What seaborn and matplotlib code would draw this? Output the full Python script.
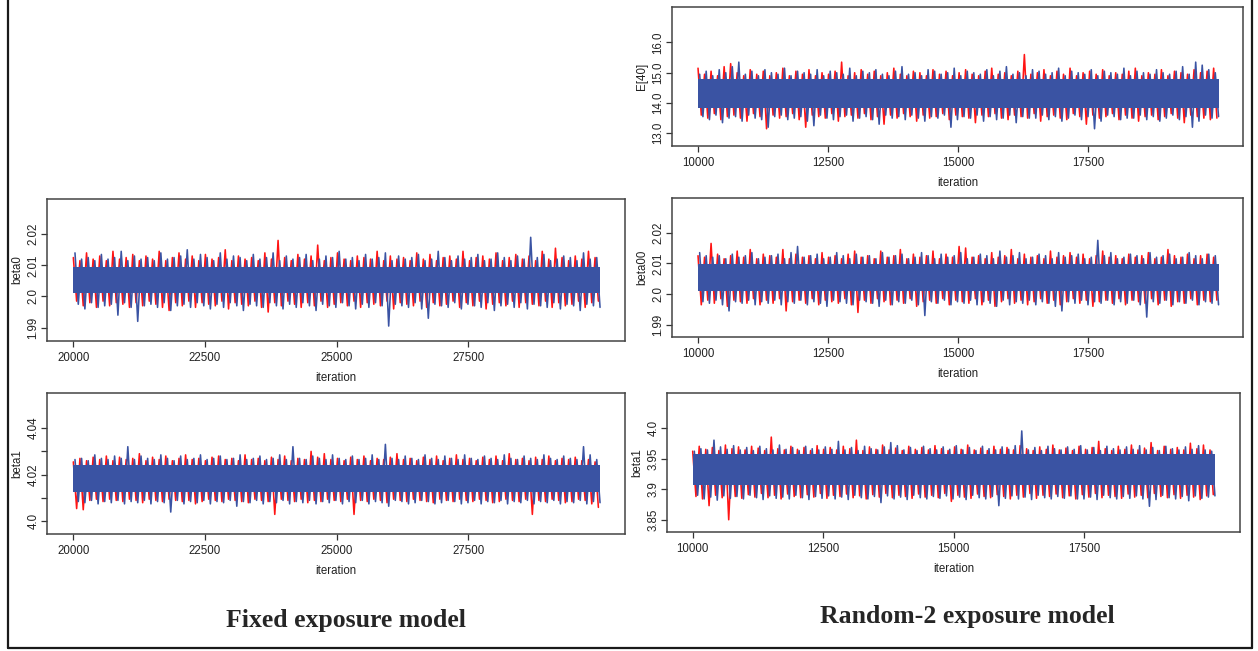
import numpy as np
import pandas as pd
import matplotlib
matplotlib.use("Agg")
import matplotlib.pyplot as plt
import seaborn as sns
from matplotlib.lines import Line2D

sns.set_theme(style="white")
plt.rcParams['font.family'] = ['Liberation Sans', 'DejaVu Sans']

# ---------------- data ----------------
# E[40], random-2 model, iterations 10000-20000 (solid core, then local highs/lows of each chain)
E40_core = [13.82, 14.80]
E40_red_hi = [15.15, 14.95, 15.05, 14.9, 15.2, 15.3, 15.0, 14.9, 15.1, 14.95,
              15.05, 14.9, 15.0, 15.15, 14.9, 15.05, 14.95, 15.1, 14.9, 15.0,
              14.95, 15.05, 15.35, 14.9, 15.0, 15.1, 14.95, 15.05, 14.9, 15.0,
              15.15, 14.95, 14.9, 15.05, 15.0, 14.9, 15.1, 14.95, 15.05, 14.9,
              15.0, 15.1, 14.95, 14.9, 15.05, 15.15, 14.95, 15.0, 14.9, 15.05,
              15.6, 14.95, 15.0, 15.1, 14.9, 15.05, 14.95, 15.15, 14.9, 15.0,
              15.05, 14.95, 15.1, 14.9, 15.0, 14.95, 15.05, 15.15, 14.9, 15.0,
              14.95, 15.1, 14.9, 15.05, 15.0, 14.95, 15.1, 15.0, 15.05, 15.15]
E40_red_lo = [13.6, 13.5, 13.65, 13.45, 13.55, 13.6, 13.5, 13.4, 13.65, 13.55,
              13.15, 13.6, 13.5, 13.55, 13.65, 13.45, 13.2, 13.6, 13.55, 13.5,
              13.65, 13.4, 13.55, 13.6, 13.5, 13.65, 13.45, 13.55, 13.3, 13.6,
              13.5, 13.65, 13.55, 13.4, 13.6, 13.5, 13.55, 13.65, 13.45, 13.6,
              13.55, 13.5, 13.35, 13.6, 13.55, 13.65, 13.5, 13.45, 13.6, 13.55,
              13.5, 13.65, 13.4, 13.55, 13.6, 13.5, 13.45, 13.65, 13.55, 13.3,
              13.6, 13.5, 13.55, 13.65, 13.45, 13.6, 13.5, 13.4, 13.55, 13.6,
              13.45, 13.55, 13.65, 13.5, 13.35, 13.6, 13.55, 13.5, 13.45, 13.5]
E40_blue_hi = [14.95, 15.05, 14.9, 15.1, 15.0, 15.2, 15.35, 14.95, 15.05, 14.9,
               15.1, 15.0, 14.95, 15.15, 14.9, 15.05, 15.0, 14.95, 15.1, 14.9,
               15.05, 15.0, 14.95, 15.15, 14.9, 15.05, 15.0, 15.1, 14.95, 14.9,
               15.05, 15.2, 14.95, 15.0, 14.9, 15.1, 15.05, 14.95, 15.0, 15.15,
               14.9, 15.05, 15.0, 14.95, 15.1, 14.9, 15.05, 15.2, 14.95, 15.0,
               14.9, 15.1, 15.05, 14.95, 15.0, 15.15, 14.9, 15.05, 15.0, 14.95,
               15.1, 14.9, 15.05, 15.0, 14.95, 15.15, 14.9, 15.05, 15.0, 14.95,
               15.1, 15.0, 14.95, 15.05, 15.2, 14.95, 15.35, 15.25, 15.1, 15.0]
E40_blue_lo = [13.55, 13.45, 13.6, 13.35, 13.5, 13.55, 13.4, 13.6, 13.5, 13.45,
               13.2, 13.55, 13.6, 13.45, 13.5, 13.55, 13.4, 13.25, 13.6, 13.5,
               13.45, 13.55, 13.6, 13.4, 13.5, 13.55, 13.45, 13.3, 13.6, 13.5,
               13.55, 13.45, 13.6, 13.5, 13.4, 13.55, 13.5, 13.6, 13.2, 13.45,
               13.55, 13.5, 13.6, 13.4, 13.55, 13.45, 13.5, 13.6, 13.35, 13.55,
               13.5, 13.5, 13.6, 13.45, 13.55, 13.4, 13.5, 13.6, 13.45, 13.55,
               13.15, 13.4, 13.6, 13.55, 13.45, 13.5, 13.5, 13.6, 13.45, 13.55,
               13.4, 13.5, 13.6, 13.45, 13.55, 13.2, 13.4, 13.6, 13.5, 13.55]

# beta0, fixed model, iterations 20000-30000
beta0_core = [2.0010, 2.0095]
beta0_red_hi = [2.0125, 2.0115, 2.014, 2.012, 2.013, 2.0115, 2.0145, 2.012, 2.0125, 2.0135,
                2.0115, 2.013, 2.012, 2.0145, 2.0115, 2.0125, 2.014, 2.012, 2.013, 2.0115,
                2.0135, 2.012, 2.0125, 2.015, 2.0115, 2.013, 2.012, 2.0125, 2.0115, 2.014,
                2.012, 2.018, 2.0125, 2.0115, 2.0135, 2.012, 2.013, 2.0165, 2.0115, 2.0125,
                2.014, 2.012, 2.0115, 2.013, 2.0125, 2.012, 2.0145, 2.0115, 2.013, 2.012,
                2.0125, 2.0115, 2.014, 2.012, 2.0135, 2.0115, 2.0125, 2.013, 2.012, 2.0145,
                2.0115, 2.0125, 2.013, 2.012, 2.014, 2.0115, 2.0125, 2.0135, 2.012, 2.013,
                2.0115, 2.0145, 2.012, 2.0155, 2.0125, 2.0115, 2.013, 2.012, 2.0145, 2.0125]
beta0_red_lo = [1.9985, 1.997, 1.998, 1.9965, 1.9985, 1.997, 1.998, 1.9975, 1.9965, 1.998,
                1.997, 1.9985, 1.9975, 1.9965, 1.9955, 1.998, 1.997, 1.9985, 1.9965, 1.998,
                1.9975, 1.997, 1.9985, 1.996, 1.998, 1.9975, 1.997, 1.9985, 1.9965, 1.995,
                1.998, 1.997, 1.9985, 1.9975, 1.9965, 1.998, 1.997, 1.9985, 1.9965, 1.9975,
                1.998, 1.997, 1.9985, 1.9965, 1.998, 1.9975, 1.997, 1.9985, 1.996, 1.998,
                1.9975, 1.997, 1.9985, 1.9965, 1.998, 1.997, 1.9975, 1.9985, 1.9965, 1.998,
                1.997, 1.9985, 1.996, 1.9975, 1.998, 1.997, 1.9985, 1.9965, 1.998, 1.9975,
                1.997, 1.9985, 1.9965, 1.998, 1.997, 1.9975, 1.9985, 1.9965, 1.998, 1.9985]
beta0_blue_hi = [2.014, 2.012, 2.0125, 2.0115, 2.0135, 2.012, 2.0125, 2.0145, 2.0115, 2.013,
                 2.012, 2.0125, 2.0115, 2.014, 2.012, 2.0125, 2.013, 2.015, 2.012, 2.0135,
                 2.0125, 2.0115, 2.014, 2.012, 2.013, 2.0125, 2.0115, 2.0135, 2.012, 2.0125,
                 2.014, 2.0115, 2.013, 2.012, 2.0125, 2.0135, 2.0115, 2.012, 2.013, 2.0125,
                 2.0145, 2.012, 2.0125, 2.0115, 2.0135, 2.012, 2.0125, 2.014, 2.0115, 2.013,
                 2.012, 2.0125, 2.0135, 2.0115, 2.012, 2.0145, 2.0125, 2.0115, 2.013, 2.012,
                 2.0125, 2.0135, 2.0115, 2.012, 2.014, 2.0125, 2.0115, 2.013, 2.012, 2.019,
                 2.0125, 2.0135, 2.0115, 2.012, 2.013, 2.0125, 2.0115, 2.014, 2.012, 2.0125]
beta0_blue_lo = [1.9975, 1.996, 1.998, 1.9965, 1.997, 1.9975, 1.994, 1.998, 1.9965, 1.992,
                 1.997, 1.9975, 1.9965, 1.998, 1.9955, 1.997, 1.9975, 1.9965, 1.998, 1.997,
                 1.996, 1.9975, 1.9965, 1.998, 1.997, 1.9955, 1.9975, 1.997, 1.9965, 1.998,
                 1.997, 1.996, 1.9975, 1.9965, 1.998, 1.997, 1.9955, 1.9975, 1.997, 1.9965,
                 1.998, 1.997, 1.996, 1.9975, 1.9965, 1.998, 1.997, 1.9905, 1.9975, 1.997,
                 1.9965, 1.998, 1.996, 1.993, 1.9975, 1.997, 1.9965, 1.998, 1.996, 1.9975,
                 1.997, 1.9965, 1.998, 1.9955, 1.997, 1.9975, 1.9965, 1.998, 1.996, 1.9975,
                 1.997, 1.9965, 1.998, 1.996, 1.9975, 1.997, 1.9955, 1.9975, 1.997, 1.9965]

# beta1, fixed model, iterations 20000-30000
beta1f_core = [4.0128, 4.0243]
beta1f_red_hi = [4.0255, 4.027, 4.026, 4.0275, 4.0265, 4.028, 4.026, 4.0275, 4.0265, 4.027,
                 4.029, 4.026, 4.0275, 4.0265, 4.028, 4.026, 4.027, 4.0285, 4.0265, 4.027,
                 4.026, 4.0275, 4.028, 4.0265, 4.027, 4.026, 4.0285, 4.0265, 4.027, 4.026,
                 4.0275, 4.0265, 4.028, 4.026, 4.027, 4.0265, 4.03, 4.0275, 4.029, 4.0265,
                 4.027, 4.026, 4.0275, 4.0265, 4.028, 4.026, 4.027, 4.0265, 4.0275, 4.029,
                 4.0265, 4.027, 4.026, 4.0275, 4.0265, 4.028, 4.026, 4.027, 4.0285, 4.0265,
                 4.027, 4.026, 4.0275, 4.0265, 4.028, 4.026, 4.029, 4.0265, 4.027, 4.026,
                 4.0275, 4.0265, 4.028, 4.026, 4.027, 4.0265, 4.0275, 4.026, 4.0265, 4.0255]
beta1f_red_lo = [4.0055, 4.005, 4.009, 4.0095, 4.0085, 4.0095, 4.009, 4.0085, 4.0095, 4.009,
                 4.008, 4.0095, 4.009, 4.0085, 4.0095, 4.009, 4.0085, 4.009, 4.0075, 4.0085,
                 4.0095, 4.009, 4.0085, 4.0095, 4.009, 4.0085, 4.008, 4.0095, 4.009, 4.0085,
                 4.003, 4.0095, 4.009, 4.0085, 4.0095, 4.008, 4.009, 4.0085, 4.0095, 4.009,
                 4.0085, 4.0095, 4.003, 4.009, 4.0085, 4.0095, 4.009, 4.008, 4.0095, 4.009,
                 4.0085, 4.0095, 4.009, 4.0085, 4.008, 4.0095, 4.009, 4.0085, 4.0095, 4.009,
                 4.0085, 4.0095, 4.009, 4.008, 4.0085, 4.0095, 4.009, 4.0085, 4.0095, 4.003,
                 4.009, 4.0085, 4.0095, 4.009, 4.008, 4.0085, 4.0095, 4.009, 4.0075, 4.006]
beta1f_blue_hi = [4.0265, 4.027, 4.026, 4.0285, 4.027, 4.0265, 4.028, 4.027, 4.032, 4.0265,
                  4.028, 4.027, 4.0265, 4.0285, 4.027, 4.026, 4.028, 4.0265, 4.027, 4.0285,
                  4.0265, 4.027, 4.028, 4.0265, 4.027, 4.0285, 4.0265, 4.027, 4.028, 4.0265,
                  4.027, 4.0285, 4.0265, 4.032, 4.027, 4.0265, 4.028, 4.027, 4.0265, 4.0285,
                  4.027, 4.0265, 4.028, 4.0265, 4.027, 4.0285, 4.0265, 4.033, 4.027, 4.0265,
                  4.028, 4.027, 4.0265, 4.0285, 4.027, 4.0265, 4.028, 4.027, 4.0265, 4.0285,
                  4.027, 4.0265, 4.028, 4.027, 4.0265, 4.0285, 4.027, 4.0265, 4.028, 4.027,
                  4.0265, 4.0285, 4.027, 4.0265, 4.028, 4.027, 4.0265, 4.032, 4.0285, 4.0265]
beta1f_blue_lo = [4.0085, 4.008, 4.009, 4.0075, 4.0085, 4.008, 4.009, 4.0075, 4.0085, 4.008,
                  4.009, 4.0075, 4.0085, 4.008, 4.004, 4.009, 4.0075, 4.0085, 4.008, 4.009,
                  4.0075, 4.0085, 4.008, 4.009, 4.0065, 4.0085, 4.008, 4.009, 4.0075, 4.0085,
                  4.008, 4.009, 4.0075, 4.0085, 4.008, 4.009, 4.0075, 4.0085, 4.008, 4.009,
                  4.0075, 4.0085, 4.008, 4.009, 4.0075, 4.0085, 4.008, 4.0065, 4.009, 4.0085,
                  4.0075, 4.008, 4.009, 4.0085, 4.0075, 4.008, 4.009, 4.0085, 4.0075, 4.008,
                  4.009, 4.0075, 4.0085, 4.008, 4.009, 4.0075, 4.0085, 4.008, 4.009, 4.0075,
                  4.0085, 4.008, 4.009, 4.0075, 4.0085, 4.008, 4.009, 4.0075, 4.0085, 4.008]

# beta00, random-2 model, iterations 10000-20000
beta00_core = [2.0009, 2.0098]
beta00_red_hi = [2.0125, 2.012, 2.0165, 2.013, 2.0115, 2.0125, 2.014, 2.012, 2.0145, 2.0115,
                 2.013, 2.0125, 2.012, 2.0145, 2.0115, 2.013, 2.012, 2.0125, 2.0115, 2.0135,
                 2.012, 2.0125, 2.0115, 2.013, 2.014, 2.012, 2.0125, 2.0115, 2.014, 2.012,
                 2.0125, 2.0145, 2.0115, 2.013, 2.012, 2.0125, 2.014, 2.0115, 2.013, 2.012,
                 2.0155, 2.015, 2.012, 2.0125, 2.0115, 2.0135, 2.012, 2.0125, 2.0145, 2.0115,
                 2.013, 2.012, 2.0125, 2.0115, 2.014, 2.012, 2.0125, 2.0135, 2.012, 2.013,
                 2.0115, 2.0125, 2.014, 2.012, 2.0125, 2.0115, 2.013, 2.012, 2.0125, 2.0135,
                 2.0115, 2.012, 2.0145, 2.0125, 2.012, 2.013, 2.0115, 2.0125, 2.013, 2.012]
beta00_red_lo = [1.9965, 1.998, 1.997, 1.9985, 1.996, 1.998, 1.9975, 1.997, 1.9985, 1.9965,
                 1.998, 1.997, 1.9985, 1.9945, 1.9975, 1.998, 1.997, 1.9985, 1.9965, 1.998,
                 1.9975, 1.997, 1.9985, 1.9965, 1.994, 1.998, 1.997, 1.9985, 1.9975, 1.9965,
                 1.998, 1.997, 1.9985, 1.996, 1.9975, 1.998, 1.997, 1.9985, 1.9965, 1.998,
                 1.9975, 1.997, 1.9985, 1.9965, 1.998, 1.996, 1.9975, 1.9985, 1.997, 1.998,
                 1.9965, 1.9975, 1.9985, 1.997, 1.998, 1.9965, 1.9975, 1.9985, 1.997, 1.998,
                 1.996, 1.9975, 1.998, 1.997, 1.9985, 1.9965, 1.998, 1.9975, 1.997, 1.9985,
                 1.9965, 1.998, 1.996, 1.9975, 1.997, 1.9985, 1.9965, 1.998, 1.9975, 1.998]
beta00_blue_hi = [2.0135, 2.0125, 2.012, 2.0125, 2.0115, 2.013, 2.012, 2.0125, 2.0135, 2.0115,
                  2.012, 2.0125, 2.013, 2.0115, 2.0135, 2.0155, 2.012, 2.0125, 2.013, 2.0115,
                  2.012, 2.0135, 2.0125, 2.0115, 2.013, 2.012, 2.0125, 2.0115, 2.0135, 2.012,
                  2.0125, 2.013, 2.0115, 2.012, 2.0135, 2.0125, 2.0115, 2.013, 2.012, 2.0125,
                  2.0135, 2.0115, 2.012, 2.013, 2.0125, 2.0115, 2.014, 2.012, 2.0125, 2.0135,
                  2.0115, 2.012, 2.013, 2.0125, 2.0115, 2.0135, 2.012, 2.0125, 2.013, 2.0115,
                  2.012, 2.0175, 2.0125, 2.0135, 2.0115, 2.012, 2.013, 2.0125, 2.0115, 2.0135,
                  2.012, 2.0125, 2.013, 2.0115, 2.012, 2.0135, 2.0125, 2.0115, 2.013, 2.0125]
beta00_blue_lo = [1.9975, 1.997, 1.998, 1.9965, 1.9945, 1.9975, 1.997, 1.998, 1.9965, 1.9975,
                  1.997, 1.998, 1.9965, 1.9975, 1.997, 1.998, 1.9965, 1.9975, 1.997, 1.996,
                  1.998, 1.9975, 1.997, 1.9965, 1.998, 1.9975, 1.997, 1.996, 1.998, 1.9965,
                  1.9975, 1.997, 1.998, 1.9965, 1.993, 1.9975, 1.997, 1.998, 1.9965, 1.9975,
                  1.997, 1.998, 1.9965, 1.9975, 1.997, 1.996, 1.998, 1.9965, 1.9975, 1.997,
                  1.998, 1.9965, 1.9975, 1.997, 1.996, 1.9945, 1.9975, 1.997, 1.998, 1.9965,
                  1.9975, 1.997, 1.998, 1.9965, 1.9975, 1.997, 1.998, 1.9965, 1.9925, 1.9975,
                  1.997, 1.998, 1.9965, 1.9975, 1.997, 1.998, 1.9965, 1.9975, 1.997, 1.9965]

# beta1, random-2 model, iterations 10000-20000
beta1r_core = [3.906, 3.957]
beta1r_red_hi = [3.962, 3.97, 3.965, 3.968, 3.963, 3.972, 3.966, 3.969, 3.964, 3.97,
                 3.967, 3.963, 3.985, 3.966, 3.964, 3.97, 3.965, 3.968, 3.963, 3.971,
                 3.965, 3.968, 3.964, 3.97, 3.966, 3.98, 3.963, 3.969, 3.965, 3.972,
                 3.964, 3.967, 3.963, 3.97, 3.965, 3.968, 3.964, 3.971, 3.966, 3.963,
                 3.969, 3.965, 3.972, 3.964, 3.967, 3.963, 3.97, 3.965, 3.968, 3.964,
                 3.971, 3.966, 3.963, 3.969, 3.965, 3.972, 3.964, 3.967, 3.963, 3.97,
                 3.965, 3.968, 3.978, 3.966, 3.963, 3.97, 3.965, 3.972, 3.964, 3.967,
                 3.976, 3.963, 3.97, 3.965, 3.968, 3.964, 3.975, 3.966, 3.972, 3.964]
beta1r_red_lo = [3.888, 3.884, 3.873, 3.89, 3.886, 3.85, 3.888, 3.885, 3.891, 3.887,
                 3.893, 3.886, 3.89, 3.884, 3.892, 3.888, 3.886, 3.891, 3.887, 3.893,
                 3.885, 3.89, 3.888, 3.892, 3.886, 3.889, 3.884, 3.891, 3.887, 3.893,
                 3.886, 3.89, 3.888, 3.885, 3.892, 3.887, 3.89, 3.886, 3.893, 3.88,
                 3.89, 3.887, 3.885, 3.892, 3.888, 3.886, 3.891, 3.888, 3.884, 3.89,
                 3.887, 3.893, 3.885, 3.89, 3.888, 3.892, 3.886, 3.889, 3.884, 3.891,
                 3.887, 3.893, 3.886, 3.89, 3.888, 3.885, 3.892, 3.887, 3.89, 3.886,
                 3.893, 3.888, 3.886, 3.891, 3.885, 3.89, 3.887, 3.883, 3.889, 3.891]
beta1r_blue_hi = [3.962, 3.966, 3.964, 3.98, 3.969, 3.965, 3.971, 3.964, 3.968, 3.963,
                  3.97, 3.966, 3.964, 3.972, 3.965, 3.968, 3.963, 3.97, 3.966, 3.964,
                  3.969, 3.965, 3.978, 3.964, 3.968, 3.963, 3.97, 3.966, 3.964, 3.969,
                  3.976, 3.971, 3.964, 3.968, 3.963, 3.97, 3.966, 3.964, 3.969, 3.965,
                  3.971, 3.964, 3.968, 3.963, 3.97, 3.966, 3.964, 3.969, 3.965, 3.971,
                  3.995, 3.964, 3.968, 3.963, 3.97, 3.966, 3.964, 3.969, 3.965, 3.971,
                  3.964, 3.968, 3.963, 3.97, 3.966, 3.964, 3.969, 3.965, 3.971, 3.964,
                  3.968, 3.963, 3.97, 3.966, 3.964, 3.969, 3.965, 3.971, 3.964, 3.962]
beta1r_blue_lo = [3.89, 3.884, 3.887, 3.882, 3.889, 3.885, 3.888, 3.884, 3.89, 3.886,
                  3.883, 3.889, 3.885, 3.887, 3.884, 3.89, 3.886, 3.883, 3.888, 3.885,
                  3.889, 3.884, 3.887, 3.883, 3.89, 3.886, 3.884, 3.888, 3.878, 3.889,
                  3.884, 3.887, 3.883, 3.89, 3.886, 3.884, 3.888, 3.885, 3.889, 3.884,
                  3.887, 3.883, 3.89, 3.886, 3.884, 3.888, 3.873, 3.885, 3.889, 3.884,
                  3.887, 3.883, 3.89, 3.886, 3.884, 3.888, 3.885, 3.889, 3.884, 3.884,
                  3.887, 3.883, 3.89, 3.886, 3.884, 3.888, 3.885, 3.889, 3.884, 3.872,
                  3.883, 3.89, 3.886, 3.884, 3.888, 3.881, 3.889, 3.885, 3.887, 3.889]

x_ticks_fixed = [20000, 22500, 25000, 27500]
x_ticks_random = [10000, 12500, 15000, 17500]
captions = ["Fixed exposure model", "Random-2 exposure model"]

# ---------------- drawing ----------------
RED = "#FF1414"
BLUE = "#3A53A3"
W, H = 1258, 651
fig = plt.figure(figsize=(W / 100, H / 100), dpi=100)
fig.patch.set_facecolor("white")


def rect(x0, y0, x1, y1):
    return [x0 / W, 1 - y1 / H, (x1 - x0) / W, (y1 - y0) / H]


panels = [
    dict(label="E[40]", it=(10000, 20000), core=E40_core,
         red=(E40_red_hi, E40_red_lo), blue=(E40_blue_hi, E40_blue_lo),
         ylim=(12.58, 17.17), yticks=[13, 14, 15, 16], ylabels=["13.0", "14.0", "15.0", "16.0"],
         xticks=x_ticks_random, xlim=(9500, 20470), box=(672, 7, 1243, 146)),
    dict(label="beta0", it=(20000, 30000), core=beta0_core,
         red=(beta0_red_hi, beta0_red_lo), blue=(beta0_blue_hi, beta0_blue_lo),
         ylim=(1.9857, 2.0313), yticks=[1.99, 2.0, 2.01, 2.02], ylabels=["1.99", "2.0", "2.01", "2.02"],
         xticks=x_ticks_fixed, xlim=(19500, 30474), box=(47, 199, 625, 341)),
    dict(label="beta1", it=(20000, 30000), core=beta1f_core,
         red=(beta1f_red_hi, beta1f_red_lo), blue=(beta1f_blue_hi, beta1f_blue_lo),
         ylim=(3.9946, 4.055), yticks=[4.0, 4.01, 4.02, 4.03, 4.04], ylabels=["4.0", "", "4.02", "", "4.04"],
         xticks=x_ticks_fixed, xlim=(19500, 30474), box=(47, 393, 625, 534)),
    dict(label="beta00", it=(10000, 20000), core=beta00_core,
         red=(beta00_red_hi, beta00_red_lo), blue=(beta00_blue_hi, beta00_blue_lo),
         ylim=(1.986, 2.0313), yticks=[1.99, 2.0, 2.01, 2.02], ylabels=["1.99", "2.0", "2.01", "2.02"],
         xticks=x_ticks_random, xlim=(9500, 20470), box=(672, 198, 1243, 337)),
    dict(label="beta1", it=(10000, 20000), core=beta1r_core,
         red=(beta1r_red_hi, beta1r_red_lo), blue=(beta1r_blue_hi, beta1r_blue_lo),
         ylim=(3.83, 4.057), yticks=[3.85, 3.9, 3.95, 4.0], ylabels=["3.85", "3.9", "3.95", "4.0"],
         xticks=x_ticks_random, xlim=(9508, 20480), box=(667, 393, 1240, 532)),
]


def zigzag(hi, lo, start, end, shift):
    m = min(len(hi), len(lo))
    y = np.ravel(np.column_stack([hi[:m], lo[:m]]))
    n = len(y)
    half = (end - start) / n / 2
    if shift:
        x = np.linspace(start + half, end, n)
    else:
        x = np.linspace(start, end - half, n)
    return x, y


for p in panels:
    ax = fig.add_axes(rect(*p["box"]))
    s, e = p["it"]
    xr, yr = zigzag(*p["red"], s, e, False)
    xb, yb = zigzag(*p["blue"], s, e, True)
    dr = pd.DataFrame({"iteration": xr, "value": yr})
    db = pd.DataFrame({"iteration": xb, "value": yb})
    sns.lineplot(data=dr, x="iteration", y="value", ax=ax, color=RED, lw=1.15,
                 sort=False, estimator=None, zorder=2)
    ax.fill_between([s, e], p["core"][0], p["core"][1], color=BLUE, lw=0, zorder=3)
    sns.lineplot(data=db, x="iteration", y="value", ax=ax, color=BLUE, lw=1.15,
                 sort=False, estimator=None, zorder=4)
    ax.set_xlim(*p["xlim"])
    ax.set_ylim(*p["ylim"])
    ax.set_xticks(p["xticks"])
    ax.set_xticklabels([str(t) for t in p["xticks"]], fontsize=8.3, color="#222222")
    ax.set_yticks(p["yticks"])
    ax.set_yticklabels(p["ylabels"], fontsize=8.3, color="#222222", rotation=90, va="center")
    ax.tick_params(axis="both", which="major", length=4, width=0.9, color="#333333",
                   bottom=True, left=True, direction="out")
    ax.tick_params(axis="x", pad=4)
    ax.tick_params(axis="y", pad=1.5)
    ax.set_xlabel("iteration", fontsize=8.3, color="#222222", labelpad=6)
    ax.set_ylabel(p["label"], fontsize=8.3, color="#222222", labelpad=3)
    for sp in ax.spines.values():
        sp.set_color("#444444")
        sp.set_linewidth(1.1)
    ax.set_facecolor("white")
    ax.grid(False)

# captions
fig.text(346 / W, 1 - 626.5 / H, captions[0], ha="center", va="baseline",
         fontsize=18.5, fontweight="bold", family=["Liberation Serif", "DejaVu Serif"])
fig.text(967 / W, 1 - 623.5 / H, captions[1], ha="center", va="baseline",
         fontsize=18.5, fontweight="bold", family=["Liberation Serif", "DejaVu Serif"])

# outer frame
for (x0, y0, x1, y1) in [(7.5, 0, 7.5, 648), (1252, 0, 1252, 648), (7.5, 648, 1252, 648)]:
    fig.add_artist(Line2D([x0 / W, x1 / W], [1 - y0 / H, 1 - y1 / H], color="#1a1a1a", lw=1.6))

fig.savefig("out.png", dpi=100, facecolor="white")
